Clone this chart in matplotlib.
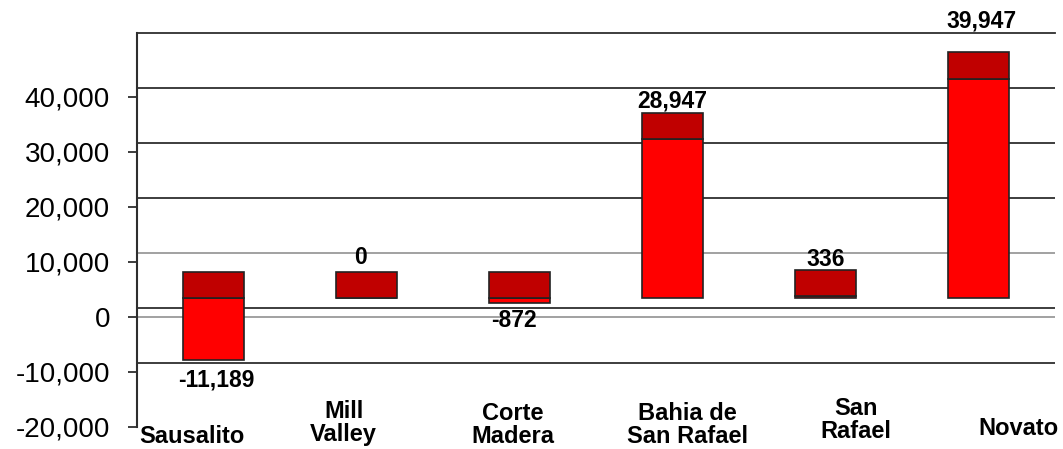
import matplotlib.pyplot as plt

plt.rcParams['font.family'] = ['Liberation Sans', 'DejaVu Sans']

cities = ["Sausalito", "Mill\nValley", "Corte\nMadera", "Bahia de\nSan Rafael", "San\nRafael", "Novato"]
changes = [-11189, 0, -872, 28947, 336, 39947]
yticks = [-20000, -10000, 0, 10000, 20000, 30000, 40000]

# fake 3d look: bars sit a bit above zero, dark cap is the top face
base = 3400
cap = 4750
grid_off = 1636

# label nudges in pixels (the original is hand laid out)
val_dx = [3, -6, -6, 0, 0, 3]
val_dy = [-20, 15, -17, 12, 11, 31]
cat_dx = [-22, -23, -7, 15, 30, 40]
cat_dy = [2, 27, 25, 25, 30, 10]

fig = plt.figure(figsize=(10.63, 4.49), dpi=100)
ax = fig.add_axes([0.1289, 0.049, 0.8636, 0.8775])

x = list(range(len(cities)))

# gridlines (back wall is shifted up a little)
for t in [-10000, 0, 20000, 30000, 40000]:
    ax.axhline(t + grid_off, color='#2e2e2e', lw=1.3, zorder=1)
ax.axhline(10000 + grid_off, color='#9a9a9a', lw=1.3, zorder=1)
ax.axhline(0, color='#9a9a9a', lw=1.3, zorder=1)

ax.bar(x, changes, bottom=base, width=0.4, color='#ff0000',
       edgecolor='#222222', linewidth=1.2, zorder=3)
cap_bottom = [base + max(v, 0) for v in changes]
ax.bar(x, cap, bottom=cap_bottom, width=0.4, color='#c00000',
       edgecolor='#222222', linewidth=1.2, zorder=3)

for i, v in enumerate(changes):
    if v < 0:
        y = base + v
    else:
        y = base + v + cap
    ax.annotate(f"{v:,}", xy=(i, y), xytext=(val_dx[i], val_dy[i]),
                textcoords='offset pixels', ha='center', va='center',
                fontsize=16.5, fontweight='bold', zorder=5)

for i, name in enumerate(cities):
    ax.annotate(name, xy=(i, 0), xycoords=('data', 'axes fraction'),
                xytext=(cat_dx[i], cat_dy[i]), textcoords='offset pixels',
                ha='center', va='top', fontsize=17, fontweight='bold',
                linespacing=1.02, annotation_clip=False)

ax.set_xlim(-0.5, 5.5)
ax.set_ylim(-20000, 50000 + grid_off)
ax.set_xticks([])
ax.set_yticks(yticks)
ax.set_yticklabels([f"{t:,}" for t in yticks], fontsize=20)
ax.tick_params(axis='y', direction='out', length=6.5, width=1.3,
               color='#2e2e2e', pad=13)

for s in ['right', 'bottom']:
    ax.spines[s].set_visible(False)
ax.spines['left'].set_color('#2e2e2e')
ax.spines['left'].set_linewidth(1.5)
ax.spines['top'].set_color('#2e2e2e')
ax.spines['top'].set_linewidth(1.3)

fig.savefig('out.png', dpi=100)
